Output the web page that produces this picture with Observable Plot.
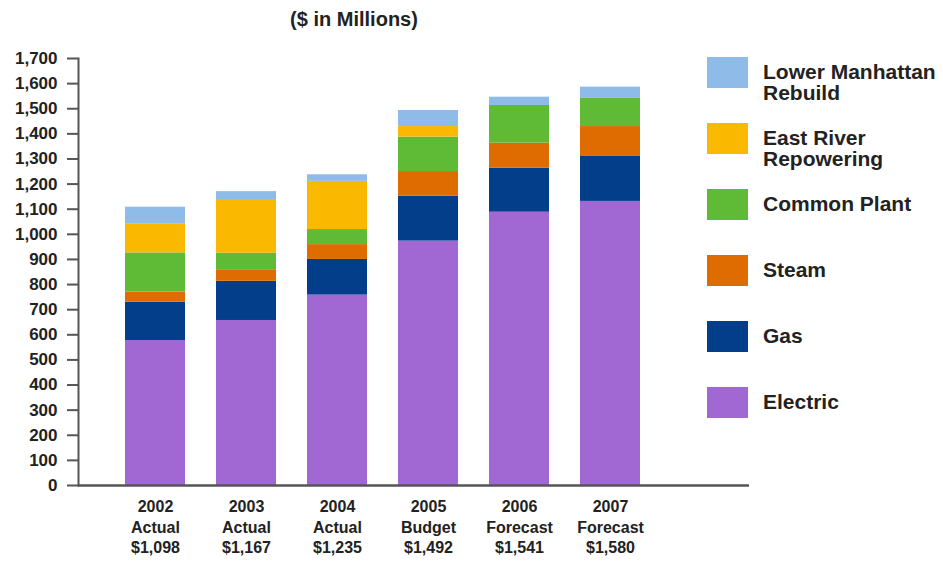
<!DOCTYPE html>
<html>
<head>
<meta charset="utf-8">
<script src="https://cdn.jsdelivr.net/npm/d3@7"></script>
<script src="https://cdn.jsdelivr.net/npm/@observablehq/plot@0.6"></script>
<style>
  body { margin: 0; background: #fff; font-family: "Liberation Sans", Arial, sans-serif; }
  #wrap { position: relative; width: 943px; height: 563px; overflow: hidden; }
  #title { position: absolute; left: 0; width: 708px; top: 8px; text-align: center; font-weight: bold; font-size: 20px; color: #222; }
  #chart { position: absolute; left: 0; top: 40px; }
  #legend { position: absolute; left: 707px; top: 57px; }
  .item { display: flex; align-items: flex-start; height: 66px; }
  .sw { width: 41px; height: 31px; flex: none; }
  .lab { margin-left: 15px; margin-top: 4px; font-weight: bold; font-size: 21px; line-height: 21px; color: #222; white-space: pre; }
</style>
</head>
<body>
<div id="wrap">
  <div id="title">($ in Millions)</div>
  <div id="chart"></div>
  <div id="legend"></div>
</div>
<script>
const years = ["2002", "2003", "2004", "2005", "2006", "2007"];
const status = ["Actual", "Actual", "Actual", "Budget", "Forecast", "Forecast"];
const totals = [1098, 1167, 1235, 1492, 1541, 1580];

const seriesNames = ["Electric", "Gas", "Steam", "Common Plant", "East River Repowering", "Lower Manhattan Rebuild"];
const legendLabels = ["Electric", "Gas", "Steam", "Common Plant", "East River\nRepowering", "Lower Manhattan\nRebuild"];
const seriesColors = ["#a168d4", "#023e8a", "#de6c00", "#5fba35", "#fab800", "#8fbbe8"];

const electric = [577, 657, 758, 973, 1088, 1131];
const gas = [153, 156, 142, 179, 175, 179];
const steam = [40, 46, 59, 98, 100, 119];
const commonPlant = [156, 66, 60, 137, 150, 114];
const eastRiver = [116, 210, 192, 42, 0, 0];
const lowerManhattan = [66, 35, 26, 64, 33, 43];

const yTicks = d3.range(0, 1701, 100);

const seriesValues = [electric, gas, steam, commonPlant, eastRiver, lowerManhattan];
const data = [];
seriesNames.forEach((s, si) => {
  years.forEach((y, yi) => data.push({ year: y, series: s, value: seriesValues[si][yi] }));
});

const fmt = d3.format(",");
const xLabel = y => {
  const i = years.indexOf(y);
  return `${y}\n${status[i]}\n$${fmt(totals[i])}`;
};

const chart = Plot.plot({
  width: 943,
  height: 523,
  marginTop: 18,
  marginBottom: 78,
  marginLeft: 78,
  marginRight: 194,
  style: { fontFamily: '"Liberation Sans", Arial, sans-serif', fontWeight: "bold", color: "#222", background: "#fff" },
  x: { domain: years, range: [110, 656], paddingInner: 0.34, paddingOuter: 0.17, axis: null, label: null },
  y: { domain: [0, 1700], axis: null, label: null },
  color: { domain: seriesNames, range: seriesColors },
  marks: [
    Plot.barY(data, { x: "year", y: "value", fill: "series", order: seriesNames }),
    Plot.axisY({ ticks: yTicks, tickFormat: fmt, label: null, tickSize: 11, tickPadding: 10, stroke: "#555", strokeWidth: 2, fill: "#222", fontSize: 17, fontWeight: "bold" }),
    Plot.axisX({ label: null, tickSize: 0, tickPadding: 12, tickFormat: xLabel, lineHeight: 1.28, fontSize: 16, fontWeight: "bold", fill: "#222" }),
    Plot.frame({ anchor: "left", stroke: "#555", strokeWidth: 2 }),
    Plot.ruleY([0], { stroke: "#555", strokeWidth: 2.5 })
  ]
});
document.getElementById("chart").appendChild(chart);

const legend = document.getElementById("legend");
const order = [5, 4, 3, 2, 1, 0];
order.forEach(i => {
  const item = document.createElement("div");
  item.className = "item";
  const sw = document.createElement("div");
  sw.className = "sw";
  sw.style.background = seriesColors[i];
  const lab = document.createElement("div");
  lab.className = "lab";
  lab.textContent = legendLabels[i];
  item.appendChild(sw);
  item.appendChild(lab);
  legend.appendChild(item);
});
</script>
</body>
</html>
